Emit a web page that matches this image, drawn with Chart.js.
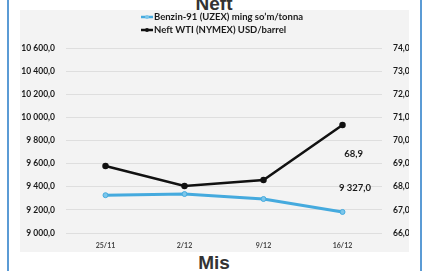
<!DOCTYPE html>
<html>
<head>
<meta charset="utf-8">
<script src="https://cdn.jsdelivr.net/npm/chart.js@4.4.1/dist/chart.umd.min.js"></script>
<style>
  html, body { margin: 0; padding: 0; background: #fff; }
  body { width: 428px; height: 271px; position: relative; overflow: hidden;
    font-family: "Liberation Sans", Arial, sans-serif; }
  .edge { position: absolute; top: 0; bottom: 0; width: 2px; background: #5b9bd5; }
  .panel { position: absolute; left: 20px; top: 10px; width: 389px; height: 242px;
    background: #f3f3f3; }
  .ttl { position: absolute; left: 0; width: 428px; text-align: center;
    font-size: 19px; font-weight: bold; color: #333; line-height: 19px; }
</style>
</head>
<body>
<div class="edge" style="left:7px"></div>
<div class="edge" style="left:420px"></div>
<div class="ttl" style="top:-6px">Neft</div>
<div class="panel"><canvas id="c" width="389" height="242"></canvas></div>
<div class="ttl" style="top:253px">Mis</div>
<script>
// weekly dates
const categories = ['25/11', '2/12', '9/12', '16/12'];
// series
const seriesNames = ['Benzin-91 (UZEX) ming so\u2019m/tonna', 'Neft WTI (NYMEX) USD/barrel'];
const benzin = [9327, 9337, 9294, 9182];
const neft = [68.9, 68.03, 68.29, 70.67];
// axis ranges
const leftRange = [9000, 10600, 200];
const rightRange = [66, 74, 1];

const BLUE = '#45aade';
const FONT = 'Lato, "Open Sans", sans-serif';

function fmt(v) {
    const s = v.toFixed(1).split('.');
    return s[0].replace(/\B(?=(\d{3})+(?!\d))/g, ' ') + ',' + s[1];
}

// legend (two rows) + first-value labels on the right
const extras = {
    id: 'extras',
    afterDraw: function (chart) {
        const ctx = chart.ctx, a = chart.chartArea;
        ctx.save();
        ctx.font = 'bold 9.5px ' + FONT;
        ctx.textBaseline = 'middle';
        ctx.textAlign = 'left';
        chart.data.datasets.forEach(function (ds, i) {
            const y = 7 + i * 13, x0 = 121;
            ctx.strokeStyle = ds.borderColor;
            ctx.lineWidth = 2.5;
            ctx.beginPath(); ctx.moveTo(x0, y); ctx.lineTo(x0 + 12, y); ctx.stroke();
            ctx.fillStyle = ds.pointBackgroundColor;
            ctx.beginPath(); ctx.arc(x0 + 6, y, 2, 0, Math.PI * 2); ctx.fill();
            ctx.fillStyle = '#1a1a1a';
            ctx.fillText(ds.label, x0 + 13, y);
        });
        // value labels
        ctx.textAlign = 'right';
        const yr = chart.scales.y1;
        ctx.fillText(fmt(neft[0]), a.right - 19, yr.getPixelForValue(69.4));
        ctx.fillText(fmt(benzin[0]), a.right - 11, yr.getPixelForValue(67.93));
        ctx.restore();
    }
};

new Chart(document.getElementById('c'), {
    type: 'line',
    data: {
        labels: categories,
        datasets: [
            { label: seriesNames[0], data: benzin, yAxisID: 'y',
              borderColor: BLUE, borderWidth: 3, pointRadius: 2.5,
              pointBackgroundColor: '#7cc6ea', pointBorderColor: BLUE, pointBorderWidth: 1 },
            { label: seriesNames[1], data: neft, yAxisID: 'y1',
              borderColor: '#111', borderWidth: 2.5, pointRadius: 2,
              pointBackgroundColor: '#111', pointBorderColor: '#111' }
        ]
    },
    options: {
        responsive: false,
        animation: false,
        layout: { padding: { top: 38, left: 0, right: 0, bottom: 0 } },
        plugins: { legend: { display: false }, tooltip: { enabled: false } },
        scales: {
            x: {
                offset: true,
                grid: { display: false, drawTicks: false },
                border: { display: false },
                ticks: { font: { family: FONT, size: 7, weight: 'bold' }, color: '#444', padding: 9 },
                afterFit: function (s) { s.height = 19; }
            },
            y: {
                position: 'left',
                min: leftRange[0], max: leftRange[1],
                grid: { color: '#dedede', lineWidth: 1, drawTicks: false },
                border: { display: false },
                ticks: { stepSize: leftRange[2], padding: 11, color: '#1a1a1a',
                    font: { family: FONT, size: 8.5, weight: 'bold' },
                    callback: function (v) { return fmt(v); } },
                afterFit: function (s) { s.width = 46; }
            },
            y1: {
                position: 'right',
                min: rightRange[0], max: rightRange[1],
                grid: { display: false, drawTicks: false },
                border: { display: false },
                ticks: { stepSize: rightRange[2], padding: 11, color: '#1a1a1a',
                    font: { family: FONT, size: 8.5, weight: 'bold' },
                    callback: function (v) { return fmt(v); } },
                afterFit: function (s) { s.width = 27; }
            }
        }
    },
    plugins: [extras]
});
</script>
</body>
</html>
